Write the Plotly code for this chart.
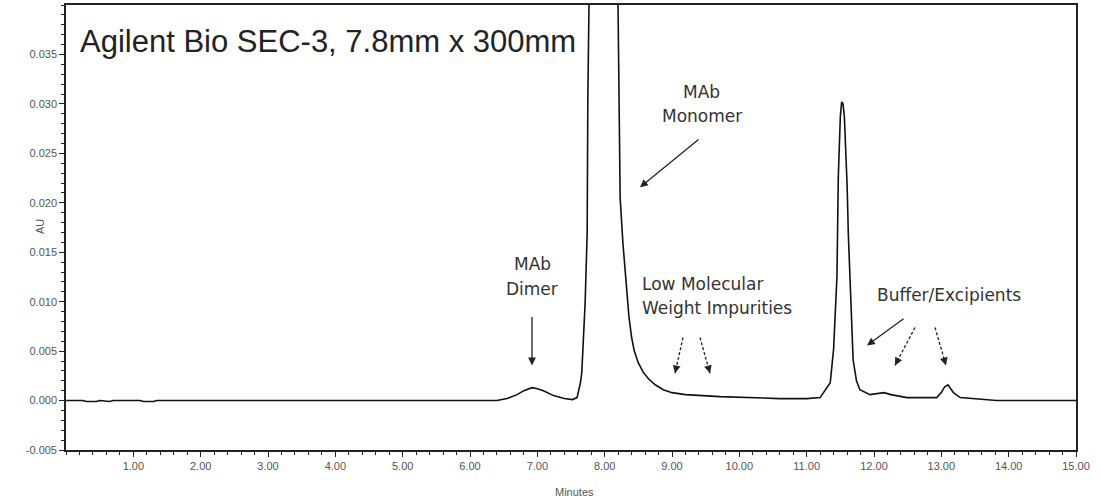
import plotly.graph_objects as go

# ---- data ----
minutes = [0.0, 0.25, 0.3, 0.45, 0.5, 0.65, 0.7, 1.1, 1.15, 1.3, 1.35, 2.0, 3.0, 4.0,
           5.0, 6.0, 6.4, 6.55, 6.7, 6.8, 6.92, 7.0, 7.09, 7.24, 7.4, 7.52, 7.59,
           7.64, 7.66, 7.71, 7.74, 7.75, 7.78, 7.85, 7.95, 8.05, 8.15, 8.21, 8.23,
           8.27, 8.30, 8.33, 8.36, 8.40, 8.44, 8.50, 8.57, 8.65, 8.75, 8.87, 9.0,
           9.2, 9.4, 9.71, 10.6, 11.0,
           11.2, 11.35, 11.40, 11.45, 11.47, 11.50, 11.52, 11.54, 11.56, 11.60,
           11.62, 11.67, 11.69, 11.74, 11.79, 11.94, 12.05, 12.15, 12.25, 12.49, 12.93,
           13.0, 13.05, 13.1, 13.18, 13.28, 13.82, 15.0]
au = [0.0, 0.0, -0.0001, -0.0001, 0.0, -0.0001, 0.0, 0.0, -0.0001, -0.0001, 0.0,
      0.0, 0.0, 0.0, 0.0, 0.0, 0.0, 0.0002, 0.0006, 0.0010, 0.0013, 0.0012, 0.0010,
      0.0005, 0.0002, 0.0001, 0.0003, 0.0018, 0.0028, 0.0099, 0.0169, 0.0306,
      0.045, 0.09, 0.14, 0.12, 0.07, 0.0293, 0.0205, 0.0160, 0.0136, 0.0108,
      0.0085, 0.0064, 0.0050, 0.0038, 0.0029, 0.0022, 0.0016, 0.0011, 0.0008,
      0.0006, 0.0005, 0.0004, 0.0002, 0.0002,
      0.0003, 0.0018, 0.0052, 0.0126, 0.0226, 0.0287, 0.0302, 0.0300, 0.0287,
      0.0219, 0.0166, 0.0086, 0.0041, 0.0020, 0.0011, 0.0006, 0.0007, 0.0008, 0.0006,
      0.0003, 0.0003, 0.0008, 0.0014, 0.0016, 0.0008, 0.0003, 0.0, 0.0]

x_tick_vals = [1, 2, 3, 4, 5, 6, 7, 8, 9, 10, 11, 12, 13, 14, 15]
x_tick_text = ["1.00", "2.00", "3.00", "4.00", "5.00", "6.00", "7.00", "8.00",
               "9.00", "10.00", "11.00", "12.00", "13.00", "14.00", "15.00"]
y_tick_vals = [-0.005, 0.0, 0.005, 0.010, 0.015, 0.020, 0.025, 0.030, 0.035]
y_tick_text = ["-0.005", "0.000", "0.005", "0.010", "0.015", "0.020", "0.025",
               "0.030", "0.035"]

title_text = "Agilent Bio SEC-3, 7.8mm x 300mm"

# ---- layout geometry (pixels) ----
W, H = 1100, 500
L, R, T, B = 66, 1076, 3, 450
XR = [0, 15]
YR = [-0.005, 0.040]


def paper(xp, yp):
    return (xp - L) / (R - L), (B - yp) / (B - T)


def data(xp, yp):
    return (XR[0] + (xp - L) / (R - L) * (XR[1] - XR[0]),
            YR[1] - (yp - T) / (B - T) * (YR[1] - YR[0]))


fig = go.Figure()
fig.add_trace(go.Scatter(x=minutes, y=au, mode="lines",
                         line=dict(color="#111111", width=1.6),
                         showlegend=False, hoverinfo="skip"))

axis_font = dict(family="Liberation Sans, Arial, sans-serif", size=11, color="#555555")
lab_font = dict(family="DejaVu Sans, sans-serif", size=17, color="#333333")

fig.update_layout(
    width=W, height=H,
    margin=dict(l=L, r=W - R, t=T, b=H - B),
    plot_bgcolor="white", paper_bgcolor="white",
    xaxis=dict(range=XR, tickmode="array", tickvals=x_tick_vals, ticktext=x_tick_text,
               ticks="outside", ticklen=5, tickwidth=1.2, tickcolor="#222",
               showline=True, linecolor="#222", linewidth=1.6, mirror=True,
               showgrid=False, zeroline=False, tickfont=axis_font,
               minor=dict(tickmode="linear", tick0=0, dtick=0.2, ticks="outside",
                          ticklen=3, tickcolor="#222", showgrid=False)),
    yaxis=dict(range=YR, tickmode="array", tickvals=y_tick_vals, ticktext=y_tick_text,
               ticks="outside", ticklen=5, tickwidth=1.2, tickcolor="#222",
               showline=True, linecolor="#222", linewidth=1.6, mirror=True,
               showgrid=False, zeroline=False, tickfont=axis_font,
               minor=dict(tickmode="linear", tick0=0, dtick=0.001, ticks="outside",
                          ticklen=3, tickcolor="#222", showgrid=False)),
)

ann = []
# title inside plot
px, py = paper(78, 40)
ann.append(dict(x=px, y=py, xref="paper", yref="paper", text=title_text, showarrow=False,
                xanchor="left", yanchor="middle",
                font=dict(family="Liberation Sans, Arial, sans-serif", size=31, color="#222")))
# axis titles
px, py = paper(574, 492)
ann.append(dict(x=px, y=py, xref="paper", yref="paper", text="Minutes", showarrow=False,
                xanchor="center", yanchor="middle", font=axis_font))
px, py = paper(40, 226)
ann.append(dict(x=px, y=py, xref="paper", yref="paper", text="AU", showarrow=False,
                textangle=-90, xanchor="center", yanchor="middle", font=axis_font))

# text labels
labels = [("MAb", 532, 263, "center"), ("Dimer", 532, 288, "center"),
          ("MAb", 701, 90, "center"), ("Monomer", 702, 115, "center"),
          ("Low Molecular", 640, 283, "left"), ("Weight Impurities", 640, 307, "left"),
          ("Buffer/Excipients", 875, 294, "left")]
for txt, xp, yp, anc in labels:
    px, py = paper(xp, yp)
    ann.append(dict(x=px, y=py, xref="paper", yref="paper", text=txt, showarrow=False,
                    xanchor=anc, yanchor="middle", font=lab_font))

# solid arrows: (tail_x, tail_y, head_x, head_y) in pixels
solid_arrows = [(532, 315, 532, 365), (700, 137, 640, 186), (905, 317, 867, 345)]
for tx, ty, hx, hy in solid_arrows:
    hxd, hyd = data(hx, hy)
    txd, tyd = data(tx, ty)
    ann.append(dict(x=hxd, y=hyd, ax=txd, ay=tyd, xref="x", yref="y", axref="x", ayref="y",
                    text="", showarrow=True, arrowhead=2, arrowsize=1.2, arrowwidth=1.3,
                    arrowcolor="#222"))

# dashed arrows
dashed_arrows = [(683, 337, 675, 373), (700, 337, 710, 373),
                 (915, 327, 895, 365), (935, 327, 946, 365)]
shapes = []
for tx, ty, hx, hy in dashed_arrows:
    txd, tyd = data(tx, ty)
    hxd, hyd = data(hx, hy)
    shapes.append(dict(type="line", xref="x", yref="y", x0=txd, y0=tyd, x1=hxd, y1=hyd,
                       line=dict(color="#222", width=1.3, dash="3px,2px")))
    dx, dy = tx - hx, ty - hy
    n = (dx * dx + dy * dy) ** 0.5
    ann.append(dict(x=hxd, y=hyd, xref="x", yref="y", ax=dx / n * 9, ay=dy / n * 9,
                    text="", showarrow=True, arrowhead=2, arrowsize=1.2, arrowwidth=1.3,
                    arrowcolor="#222"))

fig.update_layout(annotations=ann, shapes=shapes)
fig.write_html("out.html", config={"displayModeBar": False},
               post_script="document.body.style.margin='0';"
                           "document.body.style.overflow='hidden';")
